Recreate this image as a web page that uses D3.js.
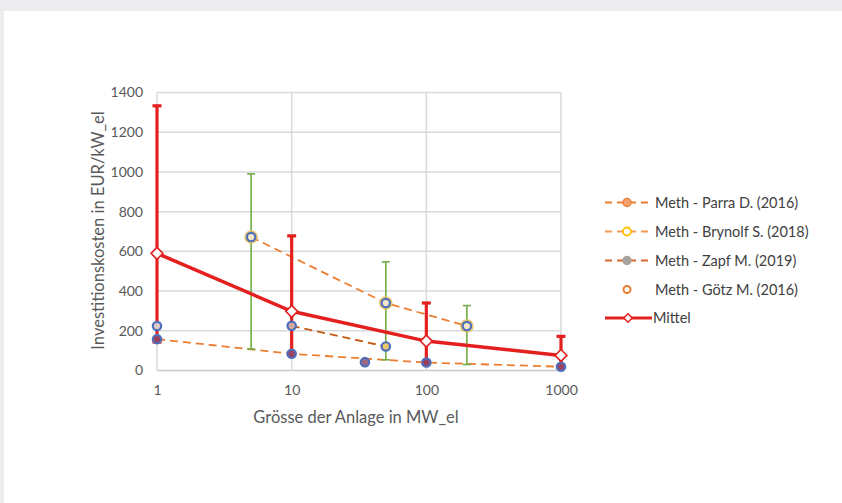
<!DOCTYPE html>
<html><head><meta charset="utf-8">
<script src="https://cdn.jsdelivr.net/npm/d3@7"></script>
<style>
html,body{margin:0;padding:0;background:#ececee;}
svg{display:block;}
</style></head>
<body>
<svg id="c" width="842" height="503"></svg>
<script>
// ---- data ----
const xTicks = [1, 10, 100, 1000];
const yTicks = [0, 200, 400, 600, 800, 1000, 1200, 1400];

const parraX = [1, 10, 100, 1000];
const parraY = [158, 84, 40, 19];

const brynolfX = [5, 50, 200];
const brynolfY = [672, 340, 224];
const brynolfLow = [108, 54, 30];
const brynolfHigh = [990, 547, 327];

const zapfX = [10, 50];
const zapfY = [225, 121];

const goetzX = [1, 35];
const goetzY = [224, 42];

const mittelX = [1, 10, 100, 1000];
const mittelY = [590, 298, 148, 76];
const mittelLow = [143, 84, 40, 22];
const mittelHigh = [1333, 678, 340, 172];

const legendLabels = ["Meth - Parra D. (2016)", "Meth - Brynolf S. (2018)", "Meth - Zapf M. (2019)", "Meth - Götz M. (2016)", "Mittel"];

// ---- drawing ----
const svg = d3.select("#c");
svg.append("rect").attr("x", 4).attr("y", 11).attr("width", 838).attr("height", 492).attr("fill", "#fff");

const x = d3.scaleLog().domain([1, 1000]).range([157, 561]);
const y = d3.scaleLinear().domain([0, 1400]).range([370.5, 92.5]);
const font = "Lato, 'Open Sans', sans-serif";
const txt = "#595959";

// grid
const g = svg.append("g");
g.selectAll(".hg").data(yTicks).join("line")
  .attr("x1", x(1)).attr("x2", x(1000))
  .attr("y1", d => y(d)).attr("y2", d => y(d))
  .attr("stroke", d => d === 0 ? "#c8c8c8" : "#d9d9d9").attr("stroke-width", 1.5);
g.selectAll(".vg").data(xTicks).join("line")
  .attr("x1", d => x(d)).attr("x2", d => x(d))
  .attr("y1", y(1400)).attr("y2", y(0))
  .attr("stroke", "#d9d9d9").attr("stroke-width", 1.5);

// axes (text only)
const yAxis = d3.axisLeft(y).tickValues(yTicks).tickFormat(d3.format("d")).tickSize(0).tickPadding(0);
const ya = svg.append("g").attr("transform", `translate(${x(1) - 14},0)`).call(yAxis);
ya.select(".domain").remove();
ya.selectAll("text").attr("font-family", font).attr("font-size", 14).attr("fill", txt);

const xAxis = d3.axisBottom(x).tickValues(xTicks).tickFormat(d3.format("d")).tickSize(0).tickPadding(0);
const xa = svg.append("g").attr("transform", `translate(0,${y(0) + 15})`).call(xAxis);
xa.select(".domain").remove();
xa.selectAll("text").attr("font-family", font).attr("font-size", 14).attr("fill", txt);

svg.append("text").attr("x", 356).attr("y", 423).attr("text-anchor", "middle")
  .attr("font-family", font).attr("font-size", 16.5).attr("fill", txt).text("Grösse der Anlage in MW_el");
svg.append("text").attr("transform", `translate(104,${(y(0)+y(1400))/2 - 1}) rotate(-90)`).attr("text-anchor", "middle")
  .attr("font-family", font).attr("font-size", 16.5).attr("fill", txt).text("Investitionskosten in EUR/kW_el");

const line = d3.line().x(d => x(d[0])).y(d => y(d[1]));
const zip = (a, b) => a.map((v, i) => [v, b[i]]);

// dashed series lines
svg.append("path").datum(zip(parraX, parraY)).attr("d", line).attr("fill", "none")
  .attr("stroke", "#ed7d31").attr("stroke-width", 1.8).attr("stroke-dasharray", "8,5");
svg.append("path").datum(zip(zapfX, zapfY)).attr("d", line).attr("fill", "none")
  .attr("stroke", "#c55a11").attr("stroke-width", 1.8).attr("stroke-dasharray", "8,5");
svg.append("path").datum(zip(brynolfX, brynolfY)).attr("d", line).attr("fill", "none")
  .attr("stroke", "#ed7d31").attr("stroke-width", 1.8).attr("stroke-dasharray", "8,5");

// green error bars
const gb = svg.append("g").attr("stroke", "#70ad47").attr("stroke-width", 1.6);
brynolfX.forEach((v, i) => {
  gb.append("line").attr("x1", x(v)).attr("x2", x(v)).attr("y1", y(brynolfLow[i])).attr("y2", y(brynolfHigh[i]));
  [brynolfLow[i], brynolfHigh[i]].forEach(e => gb.append("line").attr("x1", x(v) - 4).attr("x2", x(v) + 4).attr("y1", y(e)).attr("y2", y(e)));
});

// red error bars
const rb = svg.append("g").attr("stroke", "#e4201f").attr("stroke-width", 3.2);
mittelX.forEach((v, i) => {
  rb.append("line").attr("x1", x(v)).attr("x2", x(v)).attr("y1", y(mittelLow[i])).attr("y2", y(mittelHigh[i]));
  [mittelLow[i], mittelHigh[i]].forEach(e => rb.append("line").attr("x1", x(v) - 4.5).attr("x2", x(v) + 4.5).attr("y1", y(e)).attr("y2", y(e)));
});

// Mittel line
svg.append("path").datum(zip(mittelX, mittelY)).attr("d", line).attr("fill", "none")
  .attr("stroke", "#e4201f").attr("stroke-width", 3.5);

// markers
function blueMark(px, py, fill) {
  svg.append("circle").attr("cx", px).attr("cy", py).attr("r", 4.2).attr("fill", fill)
    .attr("stroke", "#4f6fbd").attr("stroke-width", 2.2);
}
// Brynolf: gold halo
brynolfX.forEach((v, i) => {
  svg.append("circle").attr("cx", x(v)).attr("cy", y(brynolfY[i])).attr("r", 6.8).attr("fill", "#e8bd5a").attr("opacity", 0.85);
  blueMark(x(v), y(brynolfY[i]), "#f6e7c6");
});
zapfX.forEach((v, i) => blueMark(x(v), y(zapfY[i]), i === 1 ? "#e8c86a" : "#d9a9a0"));
goetzX.forEach((v, i) => blueMark(x(v), y(goetzY[i]), i === 0 ? "#e0c8c8" : "#a06a80"));
parraX.forEach((v, i) => blueMark(x(v), y(parraY[i]), "#9a4160"));

// Mittel diamonds
const diamond = d3.symbol().type(d3.symbolDiamond2).size(90);
mittelX.forEach((v, i) => {
  svg.append("path").attr("d", diamond).attr("transform", `translate(${x(v)},${y(mittelY[i])})`)
    .attr("fill", "#fff").attr("stroke", "#e4201f").attr("stroke-width", 1.6);
});

// legend
const lg = svg.append("g");
const rowY = [202.5, 231.5, 260.5, 289.5, 318];
const lx0 = 605, lx1 = 648, lmx = 627, ltx = 655;
// Parra
lg.append("line").attr("x1", lx0).attr("x2", lx1).attr("y1", rowY[0]).attr("y2", rowY[0])
  .attr("stroke", "#ed7d31").attr("stroke-width", 1.8).attr("stroke-dasharray", "7,5");
lg.append("circle").attr("cx", lmx).attr("cy", rowY[0]).attr("r", 4).attr("fill", "#f4a26e").attr("stroke", "#e8823f").attr("stroke-width", 1.5);
// Brynolf
lg.append("line").attr("x1", lx0).attr("x2", lx1).attr("y1", rowY[1]).attr("y2", rowY[1])
  .attr("stroke", "#f29a55").attr("stroke-width", 1.8).attr("stroke-dasharray", "7,5");
lg.append("circle").attr("cx", lmx).attr("cy", rowY[1]).attr("r", 4).attr("fill", "#fff").attr("stroke", "#ffc000").attr("stroke-width", 1.8);
// Zapf
lg.append("line").attr("x1", lx0).attr("x2", lx1).attr("y1", rowY[2]).attr("y2", rowY[2])
  .attr("stroke", "#d9682a").attr("stroke-width", 1.8).attr("stroke-dasharray", "7,5");
lg.append("circle").attr("cx", lmx).attr("cy", rowY[2]).attr("r", 4).attr("fill", "#a5a5a5").attr("stroke", "#b0a090").attr("stroke-width", 1.5);
// Götz
lg.append("circle").attr("cx", lmx).attr("cy", rowY[3]).attr("r", 3.5).attr("fill", "#fff").attr("stroke", "#ed7d31").attr("stroke-width", 2);
// Mittel
lg.append("line").attr("x1", lx0).attr("x2", 652).attr("y1", rowY[4]).attr("y2", rowY[4])
  .attr("stroke", "#e4201f").attr("stroke-width", 3);
lg.append("path").attr("d", d3.symbol().type(d3.symbolDiamond2).size(45)).attr("transform", `translate(${lmx + 1},${rowY[4]})`)
  .attr("fill", "#fff").attr("stroke", "#e4201f").attr("stroke-width", 1.5);

lg.selectAll(".lt").data(legendLabels).join("text")
  .attr("x", (d, i) => i === 4 ? 653 : ltx).attr("y", (d, i) => rowY[i]).attr("dy", "0.35em")
  .attr("font-family", font).attr("font-size", 14.5).attr("fill", "#404040").text(d => d);
</script>
</body></html>
